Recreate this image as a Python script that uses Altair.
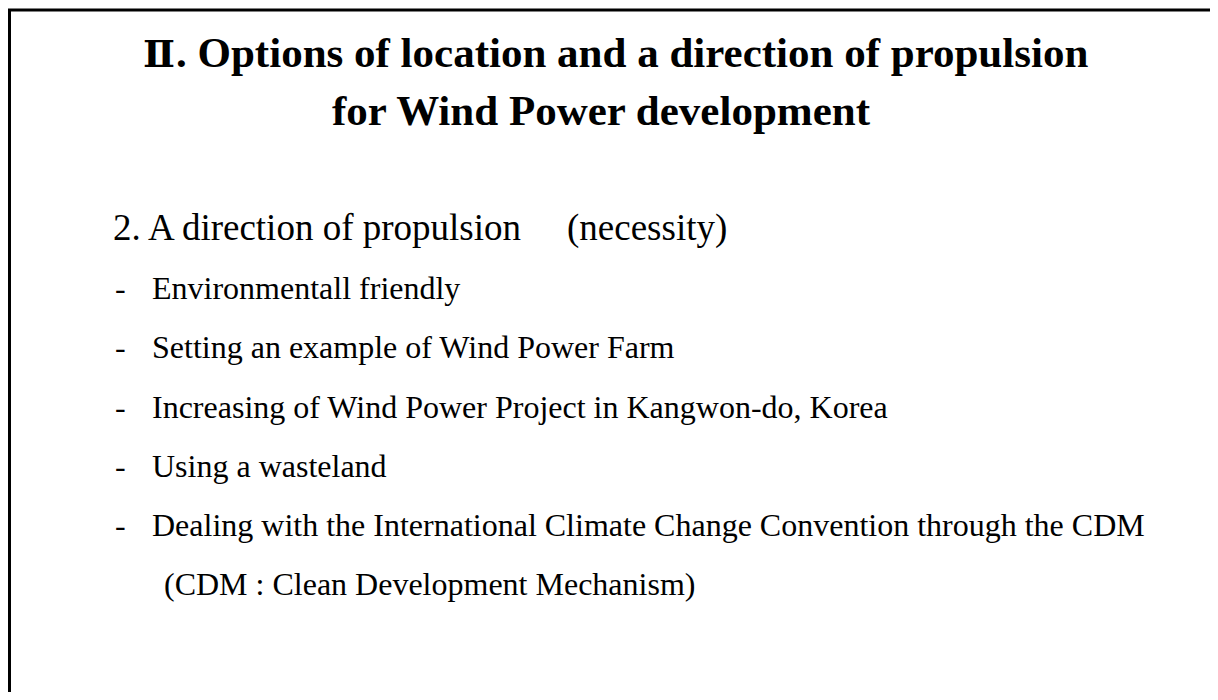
import altair as alt
import pandas as pd

numeral = "Ⅱ"
title_rest = ". Options of location and a direction of propulsion"
title_line2 = "for Wind Power development"
heading = "2. A direction of propulsion"
heading_note = "(necessity)"
bullets = [
    "Environmentall friendly",
    "Setting an example of Wind Power Farm",
    "Increasing of Wind Power Project in Kangwon-do, Korea",
    "Using a wasteland",
    "Dealing with the International Climate Change Convention through the CDM",
]
note = "(CDM : Clean Development Mechanism)"

W, H = 1202, 684
FONT = "Liberation Serif"

row_scale = alt.Scale(domain=[0, 6], range=[232, 587])
title_scale = alt.Scale(domain=[0, 1], range=[59, 117])
base = alt.Chart(pd.DataFrame({"a": [0]}))

frame_left = base.mark_rule(color="black", strokeWidth=3).encode(
    x=alt.value(1.5), y=alt.value(2), y2=alt.value(H)
)
frame_top = base.mark_rule(color="black", strokeWidth=3).encode(
    x=alt.value(0), x2=alt.value(W), y=alt.value(2)
)

def text_layer(df, field, x, scale, size, weight="normal", align="left", font=FONT):
    return alt.Chart(df).mark_text(
        font=font, fontSize=size, fontWeight=weight, align=align,
        baseline="alphabetic", color="black"
    ).encode(
        x=alt.value(x),
        y=alt.Y(f"{field}:Q", scale=scale, axis=None),
        text="text:N",
    )

t_num = text_layer(pd.DataFrame({"text": [numeral], "line": [0]}), "line", 151, title_scale, 38,
                   weight="bold", align="center", font="DejaVu Serif")
t_rest = text_layer(pd.DataFrame({"text": [title_rest], "line": [0]}), "line", 168, title_scale, 43,
                    weight="bold")
t_line2 = text_layer(pd.DataFrame({"text": [title_line2], "line": [1]}), "line", 593, title_scale, 43,
                     weight="bold", align="center")

head = text_layer(pd.DataFrame({"text": [heading], "row": [0]}), "row", 105, row_scale, 37)
head_note = text_layer(pd.DataFrame({"text": [heading_note], "row": [0]}), "row", 559, row_scale, 37)

bul_df = pd.DataFrame({"text": bullets, "row": list(range(1, len(bullets) + 1))})
dashes = alt.Chart(bul_df).mark_text(
    font=FONT, fontSize=32, align="left", baseline="alphabetic", color="black", text="-"
).encode(
    x=alt.value(107),
    y=alt.Y("row:Q", scale=row_scale, axis=None),
)
bul = text_layer(bul_df, "row", 144, row_scale, 32)
note_t = text_layer(pd.DataFrame({"text": [note], "row": [6]}), "row", 156, row_scale, 32)

chart = alt.layer(
    frame_left, frame_top, t_num, t_rest, t_line2, head, head_note, dashes, bul, note_t
).resolve_scale(
    y="independent"
).properties(
    width=W, height=H, padding=0, autosize=alt.AutoSizeParams(type="none")
).configure_view(stroke=None)

chart.save("out.html", embed_options={"renderer": "svg", "actions": False})
